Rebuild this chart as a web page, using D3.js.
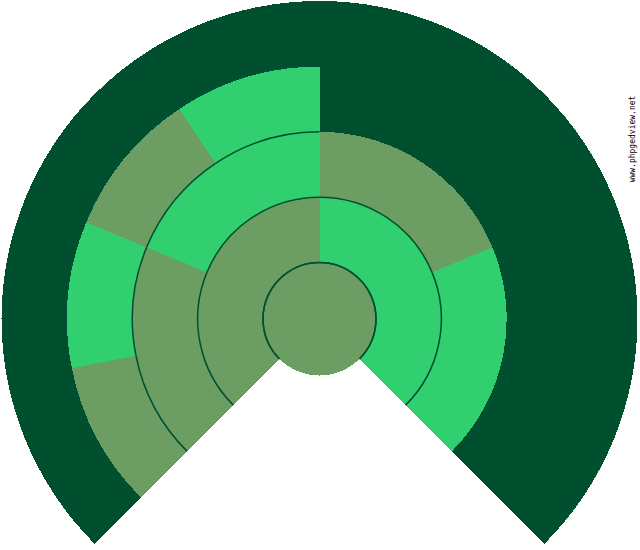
<!DOCTYPE html>
<html lang="en">
	<head>
		<meta charset="utf-8">
		<title>Fan chart</title>
		<script type="text/javascript" src="https://d3js.org/d3.v7.min.js"></script>
		<style>
			body { margin: 0; background: #fff; }
			svg { display: block; }
		</style>
	</head>
	<body>
		<svg></svg>
		<script type="text/javascript">
			// Ancestors per generation, left to right around the fan (M / F / null = unknown)
			var rootSex = "M";
			var generation1 = ["M", "F"];
			var generation2 = ["M", "F", "M", "F"];
			var generation3 = ["M", "F", "M", "F", null, null, null, null];
			var generations = [generation1, generation2, generation3];
			var watermark = "www.phpgedview.net";

			var width = 640;
			var height = 550;
			var cx = 319.5;
			var cy = 319;
			var fanRadius = 318;

			var colors = { M: "#6c9d62", F: "#31cf70", bg: "#005030" };

			var svg = d3.select("svg")
				.attr("width", width)
				.attr("height", height);

			var g = svg.append("g")
				.attr("transform", "translate(" + cx + "," + cy + ")");

			// fan covers 270 degrees, open at the bottom
			var angle = d3.scaleLinear()
				.domain([0, 1])
				.range([-3 * Math.PI / 4, 3 * Math.PI / 4]);

			// ring radius per generation (0 = centre person)
			var radius = d3.scaleLinear()
				.domain([0, 3])
				.range([56.5, 252.5]);

			var arc = d3.arc();

			// outline arc helper (d3.path angles start at 3 o'clock)
			function edge(r, a0, a1) {
				var p = d3.path();
				p.arc(0, 0, r, a0 - Math.PI / 2, a1 - Math.PI / 2);
				return p.toString();
			}

			// background of the fan (unknown ancestors)
			g.append("path")
				.attr("d", arc({ innerRadius: 0, outerRadius: fanRadius, startAngle: angle(0), endAngle: angle(1) }))
				.attr("fill", colors.bg)
				.attr("shape-rendering", "crispEdges");

			// build cells from the generation lists
			var cells = [];
			generations.forEach(function(list, gi) {
				list.forEach(function(sex, i) {
					if (sex === null) return;
					cells.push({
						sex: sex,
						innerRadius: radius(gi),
						outerRadius: radius(gi + 1),
						startAngle: angle(i / list.length),
						endAngle: angle((i + 1) / list.length)
					});
				});
			});

			g.selectAll("path.cell")
				.data(cells)
				.enter()
				.append("path")
				.attr("class", "cell")
				.attr("d", arc)
				.attr("fill", function(d) { return colors[d.sex]; })
				.attr("shape-rendering", "crispEdges");

			// centre person
			g.append("circle")
				.attr("r", radius(0))
				.attr("fill", colors[rootSex])
				.attr("shape-rendering", "crispEdges");

			// thin outline along the inner edge of each cell, and round the centre inside the fan
			var edges = cells.map(function(d) {
				return { r: d.innerRadius, a0: d.startAngle, a1: d.endAngle };
			});
			edges.push({ r: radius(0), a0: angle(0), a1: angle(1) });

			g.selectAll("path.edge")
				.data(edges)
				.enter()
				.append("path")
				.attr("class", "edge")
				.attr("d", function(d) { return edge(d.r, d.a0, d.a1); })
				.attr("fill", "none")
				.attr("stroke", colors.bg)
				.attr("stroke-width", 1.5);

			svg.append("text")
				.attr("transform", "translate(635,139) rotate(-90)")
				.attr("text-anchor", "middle")
				.attr("font-family", "DejaVu Sans Mono")
				.attr("font-size", 8)
				.attr("fill", "#000")
				.text(watermark);
		</script>
	</body>
</html>
